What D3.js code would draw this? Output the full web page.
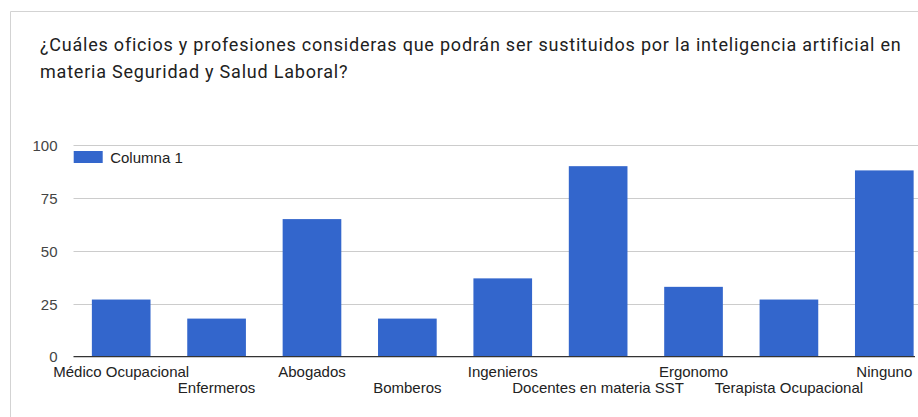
<!DOCTYPE html>
<html><head><meta charset="utf-8">
<script src="https://cdn.jsdelivr.net/npm/d3@7"></script>
<style>
html,body{margin:0;padding:0;background:#fff;overflow:hidden;}
svg{display:block;}
</style></head>
<body>
<svg id="c" width="918" height="417"></svg>
<script>
const categories = ["Médico Ocupacional","Enfermeros","Abogados","Bomberos","Ingenieros","Docentes en materia SST","Ergonomo","Terapista Ocupacional","Ninguno"];
const values = [27, 18, 65, 18, 37, 90, 33, 27, 88];
const yTicks = [0, 25, 50, 75, 100];
const seriesName = "Columna 1";
const titleLines = ["¿Cuáles oficios y profesiones consideras que podrán ser sustituidos por la inteligencia artificial en", "materia Seguridad y Salud Laboral?"];

(function(){
const svg = d3.select("#c");
const W = 918, H = 417;
const pL = 73.5, pR = 932, pT = 145, pB = 356.7;
const lblFont = "Liberation Sans, Arial, sans-serif";

// frame
svg.append("path").attr("d", `M10.5,${H} V11.5 H${W}`).attr("fill","none").attr("stroke","#d3d3d3").attr("stroke-width",1);

// title
svg.append("g").selectAll("text").data(titleLines).join("text")
  .attr("x", 40).attr("y", (d,i)=>51 + i*27)
  .attr("font-family","Roboto").attr("font-size",18).attr("letter-spacing","0.78px").attr("fill","#212121")
  .text(d=>d);

const x = d3.scaleBand().domain(categories).range([pL, pR]).paddingInner(0.385).paddingOuter(0.1925);
const y = d3.scaleLinear().domain([0,100]).range([pB, pT]);

// gridlines
svg.append("g").selectAll("line").data(yTicks.filter(t=>t>0)).join("line")
  .attr("x1", pL).attr("x2", W).attr("y1", d=>Math.round(y(d))+0.5).attr("y2", d=>Math.round(y(d))+0.5)
  .attr("stroke","#cccccc");

// y axis labels
const yAxis = d3.axisLeft(y).tickValues(yTicks).tickSize(0).tickPadding(0);
const ga = svg.append("g").attr("transform",`translate(${pL-16},0)`).call(yAxis);
ga.select(".domain").remove();
ga.selectAll("text").attr("font-family",lblFont).attr("font-size",15).attr("fill","#444").attr("dy","0.35em");

// bars
svg.append("g").selectAll("rect").data(values).join("rect")
  .attr("x",(d,i)=>x(categories[i])).attr("width",x.bandwidth())
  .attr("y",d=>y(d)).attr("height",d=>pB-y(d))
  .attr("fill","#3366cc");

// baseline
svg.append("line").attr("x1",pL).attr("x2",915).attr("y1",pB).attr("y2",pB).attr("stroke","#333").attr("stroke-width",1.2);

// x labels (staggered)
const xAxis = d3.axisBottom(x).tickSize(0).tickPadding(0);
const gx = svg.append("g").attr("transform",`translate(0,${pB})`).call(xAxis);
gx.select(".domain").remove();
gx.selectAll("text").attr("font-family",lblFont).attr("font-size",15).attr("fill","#222")
  .attr("dy",null).attr("y",(d,i)=> i%2===0 ? 20.3 : 36.5);

// legend
const lg = svg.append("g").attr("transform","translate(73.7,151)");
lg.append("rect").attr("width",29).attr("height",12).attr("fill","#3366cc");
lg.append("text").attr("x",36.5).attr("y",11.7).attr("font-family",lblFont).attr("font-size",15).attr("fill","#222").text(seriesName);
})();
</script>
</body></html>
